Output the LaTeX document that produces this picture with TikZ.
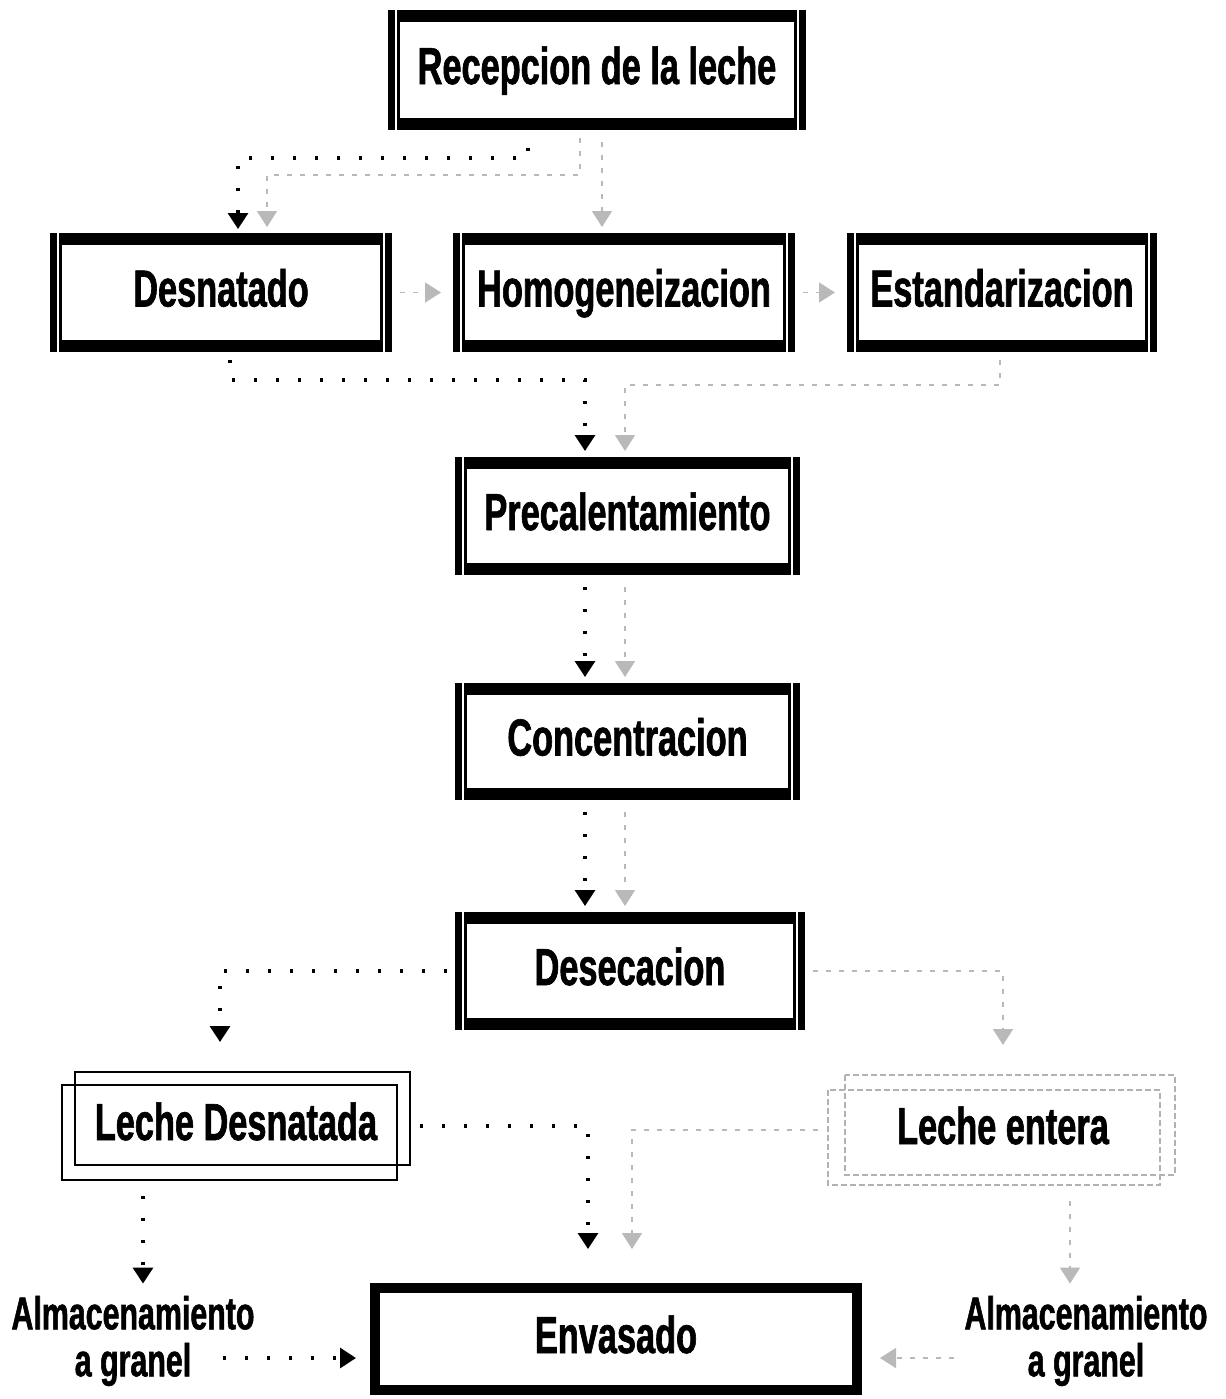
\documentclass[tikz,border=0pt]{standalone}
\usepackage{fontspec}
\setmainfont{Liberation Sans}[FakeStretch=0.66, BoldFeatures={FakeBold=1.2}]
\usetikzlibrary{arrows.meta}

\begin{document}
\begin{tikzpicture}
[every node/.style={inner sep=0pt},
 >={Triangle[width=10pt,length=8pt]},
 procbox/.style={rectangle, draw=black, line width=6pt, text height=19pt, text depth=5pt, font=\fontsize{26}{30}\selectfont\bfseries},
 envbox/.style={rectangle, draw=black, line width=5pt, text height=19pt, text depth=5pt, font=\fontsize{26}{30}\selectfont\bfseries},
 milkbox/.style={rectangle, outer sep=0pt, text height=19pt, text depth=5pt, font=\fontsize{26}{30}\selectfont\bfseries},
 storetext/.style={align=center, font=\fontsize{23}{23.5}\selectfont\bfseries},
 blkflow/.style={->, black, line width=1.6pt, dash pattern=on 1.6pt off 9.4pt},
 grayflow/.style={->, gray!55, line width=0.8pt, dash pattern=on 2.5pt off 4pt}]
\useasboundingbox (0pt, 0pt) rectangle (613pt, -699.5pt);
% process boxes
\node (recep) [procbox, minimum width=203pt, minimum height=54pt] at (298.5pt, -35pt) {Recepcion de la leche};
\node (desn) [procbox, minimum width=165pt, minimum height=53.5pt] at (110.5pt, -146.25pt) {Desnatado};
\node (homo) [procbox, minimum width=165pt, minimum height=53.5pt] at (312pt, -146.25pt) {Homogeneizacion};
\node (estan) [procbox, minimum width=149pt, minimum height=53.5pt] at (501pt, -146.25pt) {Estandarizacion};
\node (precal) [procbox, minimum width=166.5pt, minimum height=53pt] at (313.75pt, -258pt) {Precalentamiento};
\node (concen) [procbox, minimum width=166.5pt, minimum height=52.5pt] at (313.75pt, -370.75pt) {Concentracion};
\node (desec) [procbox, minimum width=169pt, minimum height=53pt] at (315pt, -485.5pt) {Desecacion};
\node (envas) [envbox, minimum width=241pt, minimum height=51pt] at (308pt, -669.5pt) {Envasado};
\foreach \n in {recep, desn, homo, estan, precal, concen, desec} {
  \draw [white, line width=1pt] ([xshift=4pt]\n.north west) -- ([xshift=4pt]\n.south west);
  \draw [white, line width=1pt] ([xshift=-4pt]\n.north east) -- ([xshift=-4pt]\n.south east);
}
% products
\node (ldesn) [milkbox, minimum width=174pt, minimum height=54pt] at (118pt, -563pt) {Leche Desnatada};
\draw [black, line width=0.9pt] ([xshift=6.5pt]ldesn.north west) rectangle ([yshift=7.5pt]ldesn.south east);
\draw [black, line width=0.9pt] ([yshift=-6.5pt]ldesn.north west) rectangle ([xshift=-6.5pt]ldesn.south east);
\node (lent) [milkbox, minimum width=175pt, minimum height=55pt] at (501.5pt, -565pt) {Leche entera};
\draw [gray!60, line width=0.9pt, dash pattern=on 3pt off 1.5pt] ([xshift=8.5pt]lent.north west) rectangle ([xshift=-1.5pt, yshift=5pt]lent.south east);
\draw [gray!60, line width=0.9pt, dash pattern=on 3pt off 1.5pt] ([yshift=-7.5pt]lent.north west) rectangle ([xshift=-9pt]lent.south east);
\node (almL) [storetext] at (66.5pt, -670.5pt) {Almacenamiento\\a granel};
\node (almR) [storetext] at (543pt, -670.5pt) {Almacenamiento\\a granel};
% skimmed milk line
\draw [blkflow, shorten <=9pt, shorten >=2pt] ([xshift=-34.5pt]recep.south) -- ++(0pt, -14pt) -| ([xshift=8.5pt]desn.north);
\draw [blkflow, shorten <=4pt, shorten >=3pt] ([xshift=4.5pt]desn.south) -- ++(0pt, -14pt) -| ([xshift=-21.25pt]precal.north);
\draw [blkflow, shorten <=6pt, shorten >=3pt] ([xshift=-21.25pt]precal.south) -- ([xshift=-21.25pt]precal.south |- concen.north);
\draw [blkflow, shorten <=6pt, shorten >=3pt] ([xshift=-21.25pt]concen.south) -- ([xshift=-21.25pt]concen.south |- desec.north);
\draw [blkflow, shorten <=4pt, shorten >=15pt] (desec.west) -| ([xshift=-8pt]ldesn.north);
\draw [blkflow, shorten <=5pt, shorten >=17pt] (ldesn.east) -| ([xshift=-14pt]envas.north);
\draw [blkflow, shorten <=8pt, shorten >=6pt] ([xshift=-46.5pt]ldesn.south) -- ([xshift=-46.5pt]ldesn.south |- almL.north);
\draw [blkflow, shorten >=7pt] ([xshift=-16pt, yshift=-8.5pt]almL.east) -- ([yshift=-8.5pt]almL.east -| envas.west);
% whole milk line
\draw [grayflow, shorten <=4pt, shorten >=3pt] ([xshift=-8.5pt]recep.south) -- ++(0pt, -22.5pt) -| ([xshift=23pt]desn.north);
\draw [grayflow, shorten <=6pt, shorten >=3pt] ([xshift=2.5pt]recep.south) -- ([xshift=2.5pt]recep.south |- homo.north);
\draw [grayflow, shorten <=4pt, shorten >=6pt] (desn) -- (homo);
\draw [grayflow, shorten <=4pt, shorten >=6pt] (homo) -- (estan);
\draw [grayflow, shorten <=4pt, shorten >=3pt] ([xshift=-1pt]estan.south) -- ++(0pt, -16.5pt) -| ([xshift=-1.25pt]precal.north);
\draw [grayflow, shorten <=6pt, shorten >=3pt] ([xshift=-1.25pt]precal.south) -- ([xshift=-1.25pt]precal.south |- concen.north);
\draw [grayflow, shorten <=6pt, shorten >=3pt] ([xshift=-1.25pt]concen.south) -- ([xshift=-1.25pt]concen.south |- desec.north);
\draw [grayflow, shorten <=4pt, shorten >=15pt] (desec.east) -| (lent.north);
\draw [grayflow, shorten <=5pt, shorten >=17pt] (lent.west) -| ([xshift=8pt]envas.north);
\draw [grayflow, shorten <=8pt, shorten >=6pt] ([xshift=33.5pt]lent.south) -- ([xshift=33.5pt]lent.south |- almR.north);
\draw [grayflow, shorten >=9pt] ([xshift=-5pt, yshift=-8.5pt]almR.west) -- ([yshift=-8.5pt]almR.west -| envas.east);
\end{tikzpicture}
\end{document}
